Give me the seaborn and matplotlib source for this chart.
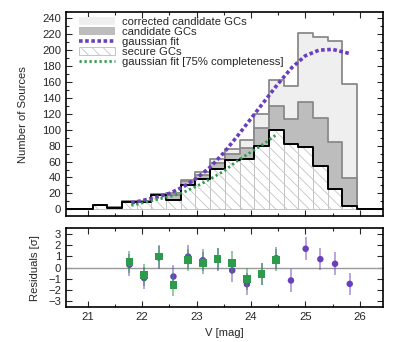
import numpy as np
import pandas as pd
import matplotlib
matplotlib.use("Agg")
import matplotlib.pyplot as plt
from matplotlib.patches import Patch
from matplotlib.lines import Line2D
from matplotlib.ticker import MultipleLocator
import seaborn as sns

# ---- data ----
bin_start = 20.55
bin_width = 0.27
secure    = [0, 0, 5, 2, 9, 9, 18, 12, 30, 38, 51, 62, 63, 79, 100, 82, 78, 54, 25, 4, 0, 0]
candidate = [0, 0, 5, 3, 10, 10, 19, 18, 36, 43, 58, 70, 77, 102, 130, 113, 135, 115, 85, 39, 0, 0]
corrected = [0, 0, 5, 3, 10, 10, 19, 20, 37, 47, 63, 76, 87, 120, 162, 155, 221, 216, 211, 158, 0, 0]

gauss_v = [21.80, 22.00, 22.25, 22.50, 22.75, 23.00, 23.25, 23.50, 23.75,
           24.00, 24.25, 24.50, 24.75, 25.00, 25.25, 25.50, 25.80]
gauss_n = [8, 11, 15, 20, 28, 39, 53, 71, 92, 114, 136, 158, 178, 193, 200, 201, 196]

gauss75_v = [21.80, 22.00, 22.25, 22.50, 22.75, 23.00, 23.25, 23.50, 23.75, 24.00, 24.25, 24.45]
gauss75_n = [5, 8, 12, 16, 21, 29, 38, 48, 61, 72, 83, 93]

res_v = [21.765, 22.035, 22.305, 22.575, 22.845, 23.115, 23.385, 23.655,
         23.925, 24.195, 24.465, 24.735, 25.005, 25.275, 25.545, 25.815]
res_purple = [0.25, -0.93, 0.90, -0.79, 0.98, 0.66, 0.70, -0.25,
              -1.47, -0.55, 0.84, -1.14, 1.67, 0.75, 0.34, -1.44]
err_purple = [1.0, 1.0, 1.0, 1.0, 1.0, 1.0, 1.0, 1.0, 1.0, 1.0, 1.0, 1.0, 1.0, 1.0, 1.0, 1.0]
res_green = [0.49, -0.64, 0.99, -1.55, 0.69, 0.40, 0.75, 0.43, -1.02, -0.55, 0.66]
err_green = [1.0, 1.0, 1.0, 1.0, 1.0, 1.0, 1.0, 1.0, 1.0, 1.0, 1.0]

edges = [round(bin_start + bin_width * i, 3) for i in range(len(secure) + 1)]
hist = pd.DataFrame({
    "V": [e + bin_width / 2 for e in edges[:-1]],
    "secure": secure,
    "candidate": candidate,
    "corrected": corrected,
})

PURPLE = "#6a3fbd"
GREEN = "#2e9a4c"
LIGHT = "#efefef"
DARK = "#bdbdbd"
EDGE = "#8a8a8a"
HATCH = "#c4c4c4"
FS = 8.1

sns.set_style("ticks")
plt.rcParams["font.family"] = ["Liberation Sans", "DejaVu Sans"]
plt.rcParams["font.size"] = FS
plt.rcParams["hatch.color"] = HATCH
plt.rcParams["hatch.linewidth"] = 0.6

fig = plt.figure(figsize=(3.99, 3.42), dpi=100)
ax = fig.add_axes([0.1654, 0.367, 0.7936, 0.598])
ax2 = fig.add_axes([0.1654, 0.102, 0.7936, 0.231])

# ---- top: histograms ----
sns.histplot(data=hist, x="V", weights="corrected", bins=edges, element="step",
             fill=True, facecolor=LIGHT, edgecolor=EDGE, linewidth=1.3, alpha=1, ax=ax)
sns.histplot(data=hist, x="V", weights="candidate", bins=edges, element="step",
             fill=True, facecolor=DARK, edgecolor=EDGE, linewidth=1.3, alpha=1, ax=ax)
sns.histplot(data=hist, x="V", weights="secure", bins=edges, element="bars",
             fill=True, facecolor="white", edgecolor=HATCH, hatch="\\\\\\",
             linewidth=0.7, alpha=1, ax=ax)
sns.histplot(data=hist, x="V", weights="secure", bins=edges, element="step",
             fill=False, color="black", linewidth=1.4, ax=ax)

sns.lineplot(x=gauss_v, y=gauss_n, color=PURPLE, linewidth=2.6, ax=ax)
ax.lines[-1].set_linestyle((0, (1.0, 0.7)))
sns.lineplot(x=gauss75_v, y=gauss75_n, color=GREEN, linewidth=2.0, ax=ax)
ax.lines[-1].set_linestyle((0, (0.8, 1.0)))

ax.set_xlim(20.6, 26.42)
ax.set_ylim(-9, 248)
ax.set_ylabel("Number of Sources", fontsize=FS)
ax.yaxis.set_label_coords(-0.12, 0.5)
ax.set_xlabel("")
ax.xaxis.set_major_locator(MultipleLocator(1))
ax.xaxis.set_minor_locator(MultipleLocator(0.5))
ax.yaxis.set_major_locator(MultipleLocator(20))
ax.yaxis.set_minor_locator(MultipleLocator(10))
ax.tick_params(labelbottom=False)

handles = [
    Patch(facecolor=LIGHT, edgecolor="none"),
    Patch(facecolor=DARK, edgecolor="none"),
    Line2D([], [], color=PURPLE, linewidth=2.6, linestyle=(0, (1.0, 0.7))),
    Patch(facecolor="white", edgecolor=HATCH, hatch="\\\\\\", linewidth=0.7),
    Line2D([], [], color=GREEN, linewidth=2.0, linestyle=(0, (0.8, 1.0))),
]
labels = ["corrected candidate GCs", "candidate GCs", "gaussian fit", "secure GCs",
          "gaussian fit [75% completeness]"]
ax.legend(handles, labels, loc="upper left", bbox_to_anchor=(0.041, 0.975),
          frameon=False, borderpad=0, borderaxespad=0, handlelength=3.2,
          handletextpad=0.6, labelspacing=0.0, fontsize=FS)

# ---- bottom: residuals ----
n_green = len(res_green)
ax2.axhline(0, color="#999999", linewidth=1.0, zorder=1)
ax2.errorbar(res_v, res_purple, yerr=err_purple, fmt="none", ecolor=PURPLE,
             alpha=0.55, elinewidth=1.2, zorder=2)
sns.scatterplot(x=res_v, y=res_purple, color=PURPLE, marker="o", s=22,
                edgecolor="none", ax=ax2, zorder=3)
ax2.errorbar(res_v[:n_green], res_green, yerr=err_green, fmt="none",
             ecolor=GREEN, alpha=0.6, elinewidth=1.2, zorder=4)
sns.scatterplot(x=res_v[:n_green], y=res_green, color=GREEN, marker="s",
                s=30, edgecolor="none", ax=ax2, zorder=5)

ax2.set_xlim(20.6, 26.42)
ax2.set_ylim(-3.5, 3.5)
ax2.set_xlabel("V [mag]", fontsize=FS)
ax2.set_ylabel("Residuals [σ]", fontsize=FS)
ax2.yaxis.set_label_coords(-0.082, 0.5)
ax2.xaxis.set_major_locator(MultipleLocator(1))
ax2.xaxis.set_minor_locator(MultipleLocator(0.5))
ax2.yaxis.set_major_locator(MultipleLocator(1))

for a in (ax, ax2):
    a.tick_params(which="both", direction="in", top=True, right=True,
                  labelsize=FS, width=0.8)
    a.tick_params(which="major", length=4)
    a.tick_params(which="minor", length=2.5)
    for s in a.spines.values():
        s.set_linewidth(1.2)
        s.set_color("black")

fig.savefig("out.png", dpi=100)
